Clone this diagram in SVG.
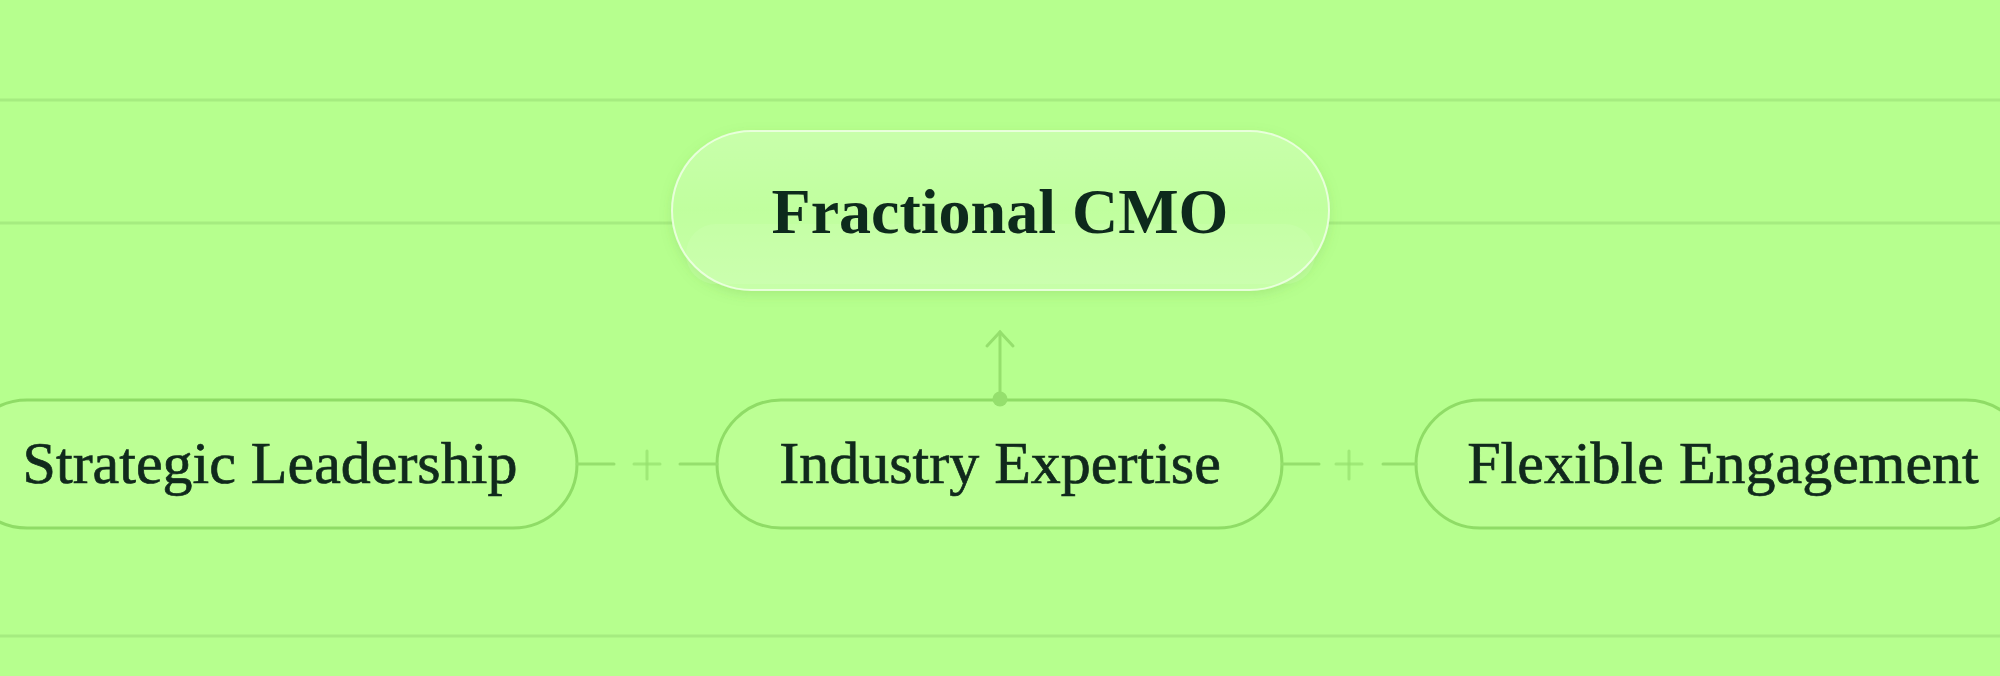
<svg xmlns="http://www.w3.org/2000/svg" width="2000" height="676" viewBox="0 0 2000 676">
<defs>
<style>
.guide{stroke:#a5ec80;stroke-width:3;fill:none}
.pill{fill:#bcff94;stroke:#8fdc66;stroke-width:3}
.conn{stroke:#95df6d;stroke-width:3;fill:none;stroke-linecap:round}
.lbl{font-family:"Liberation Serif","DejaVu Serif",serif;fill:#10291c;text-anchor:middle}
.sub{font-size:60px;stroke:#10291c;stroke-width:0.7}
.main{font-size:64px;font-weight:700}
</style>
<linearGradient id="glass" x1="0" y1="0" x2="0" y2="1">
<stop offset="0" stop-color="#ffffff" stop-opacity="0.2"/>
<stop offset="0.5" stop-color="#ffffff" stop-opacity="0.08"/>
<stop offset="1" stop-color="#ffffff" stop-opacity="0.18"/>
</linearGradient>
<filter id="shadow" x="-10%" y="-30%" width="120%" height="160%">
<feDropShadow dx="0" dy="4" stdDeviation="6" flood-color="#5a9a3a" flood-opacity="0.18"/>
</filter>
</defs>
<rect width="2000" height="676" fill="#b6ff8e"/>
<g id="guides">
<line class="guide" x1="0" y1="100" x2="2000" y2="100"/>
<line class="guide" x1="0" y1="223" x2="2000" y2="223"/>
<line class="guide" x1="0" y1="636" x2="2000" y2="636"/>
</g>
<g id="node-cmo" filter="url(#shadow)">
<rect x="672" y="131" width="657" height="159" rx="79.5" fill="#bbff96"/>
<rect x="672" y="131" width="657" height="159" rx="79.5" fill="url(#glass)" stroke="#f0ffe6" stroke-opacity="0.85" stroke-width="2"/>
<rect x="686" y="224" width="629" height="60" rx="30" fill="#ffffff" fill-opacity="0.07"/>
<text class="lbl main" x="1000" y="233">Fractional CMO</text>
</g>
<g id="node-strategic">
<rect class="pill" x="-37" y="400" width="614" height="128" rx="64"/>
<text class="lbl sub" x="270" y="483">Strategic Leadership</text>
</g>
<g id="node-industry">
<rect class="pill" x="717" y="400" width="565" height="128" rx="64"/>
<text class="lbl sub" x="1000" y="483">Industry Expertise</text>
</g>
<g id="node-flexible">
<rect class="pill" x="1416" y="400" width="614" height="128" rx="64"/>
<text class="lbl sub" x="1723" y="483">Flexible Engagement</text>
</g>
<g id="connectors">
<line class="conn" x1="577" y1="464" x2="614" y2="464"/>
<line class="conn" x1="634" y1="464" x2="660" y2="464" stroke-opacity="0.7"/>
<line class="conn" x1="647" y1="451" x2="647" y2="479" stroke-opacity="0.7"/>
<line class="conn" x1="680" y1="464" x2="717" y2="464"/>
<line class="conn" x1="1282" y1="464" x2="1319" y2="464"/>
<line class="conn" x1="1336" y1="464" x2="1362" y2="464" stroke-opacity="0.7"/>
<line class="conn" x1="1349" y1="451" x2="1349" y2="479" stroke-opacity="0.7"/>
<line class="conn" x1="1383" y1="464" x2="1416" y2="464"/>
<line class="conn" x1="1000" y1="399" x2="1000" y2="332"/>
<polyline class="conn" points="987,346 1000,332 1013,346"/>
<circle cx="1000" cy="399" r="7.5" fill="#95df6d"/>
</g>
</svg>
